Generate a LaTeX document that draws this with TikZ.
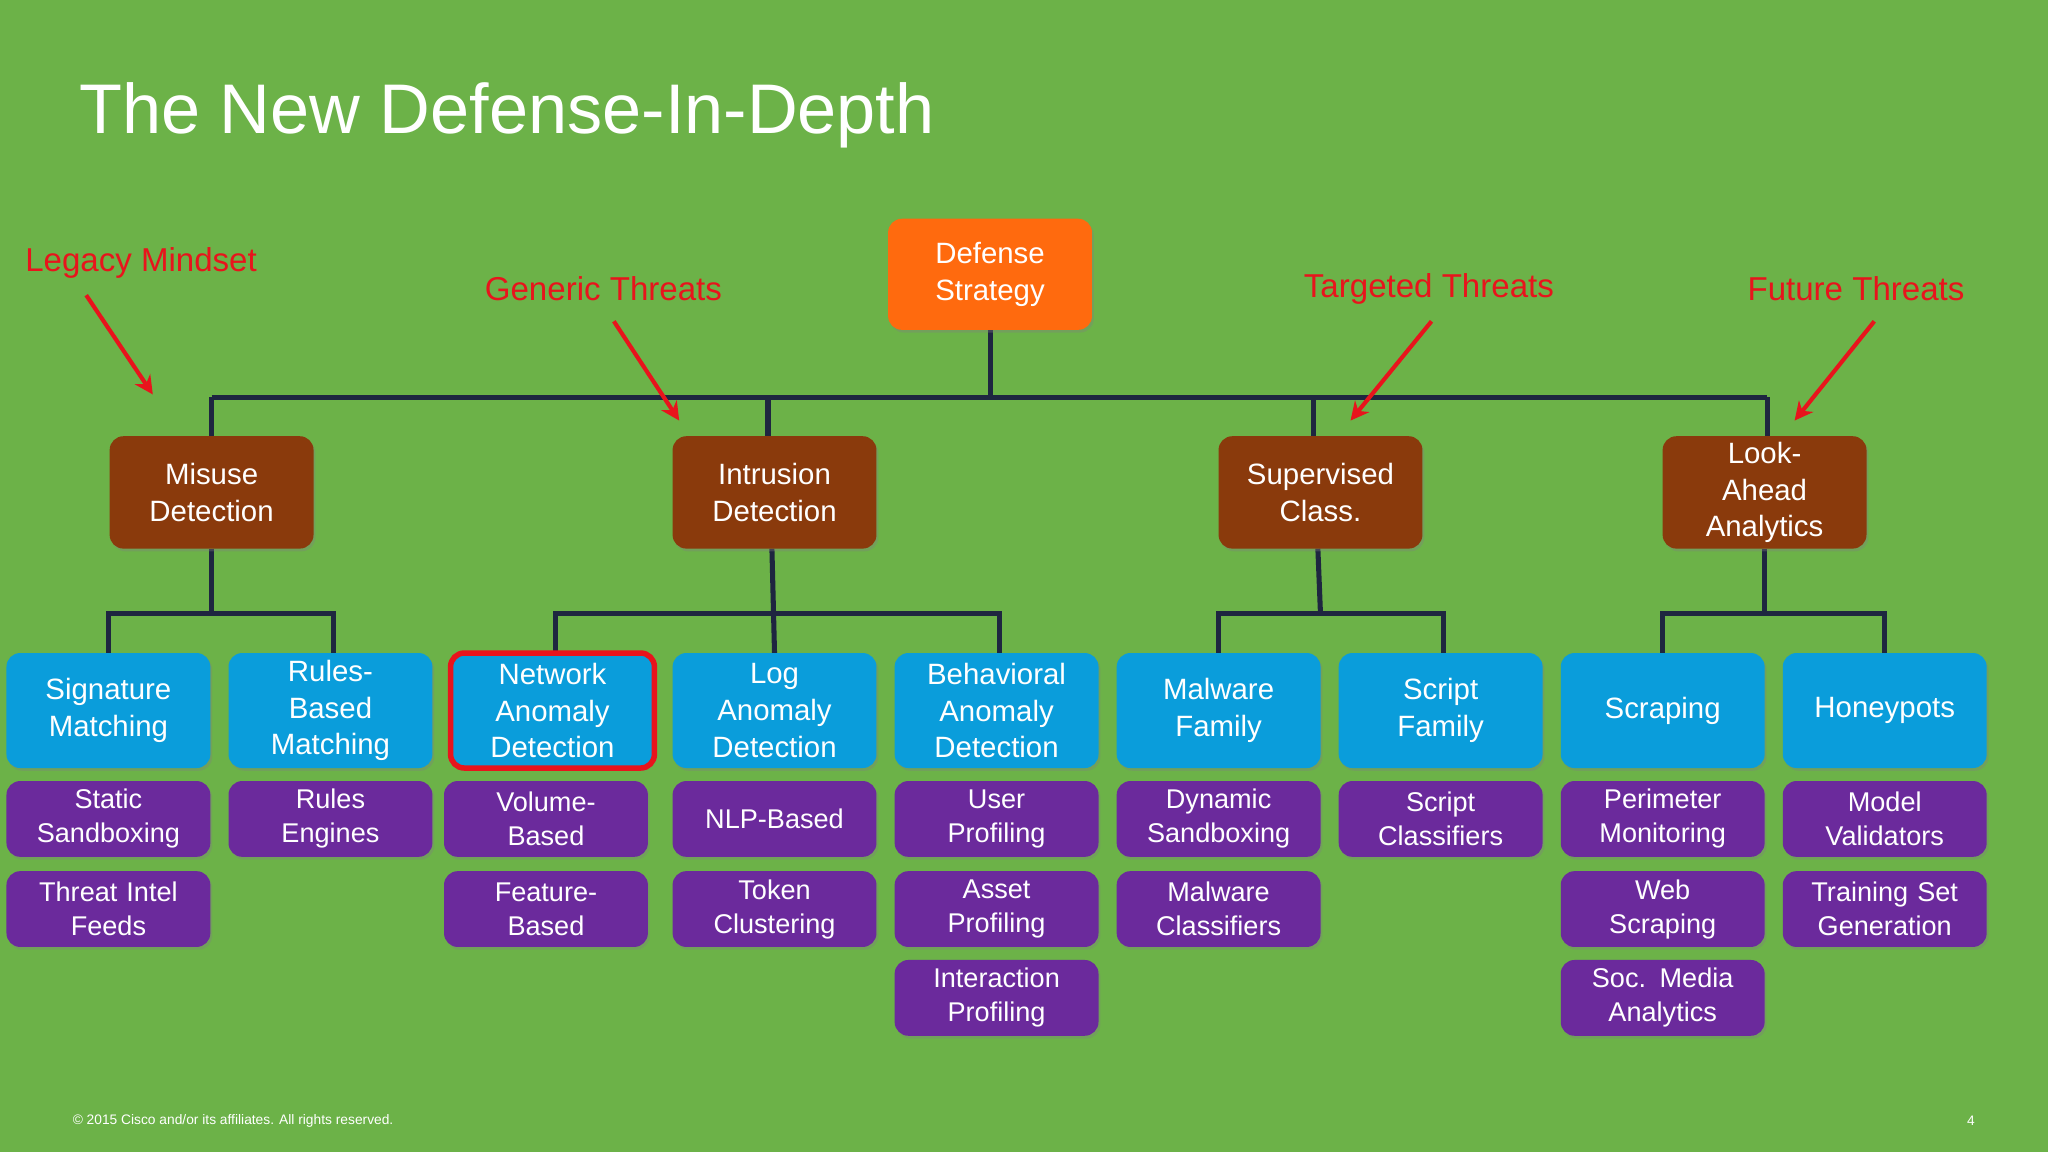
\documentclass[tikz,border=0pt]{standalone}
\usepackage{fontspec}
\setmainfont{Liberation Sans}
\usetikzlibrary{shadows,arrows.meta}
\definecolor{bg}{HTML}{6CB248}
\definecolor{org}{HTML}{FF6A0E}
\definecolor{brn}{HTML}{8A3A0C}
\definecolor{blu}{HTML}{0A9DDB}
\definecolor{pur}{HTML}{6B2A9C}
\definecolor{ln}{HTML}{1E2640}
\definecolor{rd}{HTML}{E8141C}
\begin{document}
\begin{tikzpicture}[x=0.01cm,y=-0.01cm,
 box/.style={rounded corners=3pt,text=white,align=center,font=\fontsize{6.4}{8}\selectfont,minimum width=1.56cm,text width=1.5cm,inner sep=0pt,drop shadow={opacity=0.35,shadow xshift=0.4pt,shadow yshift=-0.6pt}},
 top/.style={box,fill=org,minimum height=0.85cm},
 mid/.style={box,fill=brn,minimum height=0.86cm},
 leaf/.style={box,fill=blu,minimum height=0.88cm},
 sub/.style={box,fill=pur,minimum height=0.58cm,font=\fontsize{5.9}{7.4}\selectfont},
 bus/.style={draw=ln,line width=1.1pt},
 lab/.style={text=rd,font=\fontsize{7.2}{8}\selectfont},
 rar/.style={draw=rd,line width=0.9pt,-{Stealth[length=4pt,width=4pt]}}]
\fill[bg] (0,0) rectangle (1568,882);
\useasboundingbox (0,0) rectangle (1568,882);
\node[anchor=west,inner sep=0pt,text=white,font=\fontsize{15.3}{18}\selectfont] (title) at (60,88) {The New Defense-In-Depth};
% buses
\coordinate (b0) at (758,304); \coordinate (bl) at (162,304); \coordinate (br) at (1353,304);
\draw[bus] (758,253) -- (b0); \draw[bus] (bl) -- (br);
\foreach \x in {162,588,1006,1353} \draw[bus] (\x,304) -- (\x,334);
\draw[bus] (162,420) -- (162,470); \draw[bus] (83,500) -- (83,470) -- (255,470) -- (255,500);
\draw[bus] (591,420) -- (593,500); \draw[bus] (425,500) -- (425,470) -- (765,470) -- (765,500);
\draw[bus] (1009,420) -- (1011,470); \draw[bus] (933,500) -- (933,470) -- (1105,470) -- (1105,500);
\draw[bus] (1351,420) -- (1351,470); \draw[bus] (1273,500) -- (1273,470) -- (1443,470) -- (1443,500);
\node[top] (ds) at (758,210) {Defense\\Strategy};
\node[mid] (m1) at (162,377) {Misuse\\Detection};
\node[mid] (m2) at (593,377) {Intrusion\\Detection};
\node[mid] (m3) at (1011,377) {Supervised\\Class.};
\node[mid] (m4) at (1351,377) {Look-\\Ahead\\Analytics};
\node[leaf] (l1) at (83,544) {Signature\\Matching};
\node[leaf] (l2) at (253,544) {Rules-\\Based\\Matching};
\node[leaf,draw=rd,line width=1.2pt] (l3) at (423,544) {Network\\Anomaly\\Detection};
\node[leaf] (l4) at (593,544) {Log\\Anomaly\\Detection};
\node[leaf] (l5) at (763,544) {Behavioral\\Anomaly\\Detection};
\node[leaf] (l6) at (933,544) {Malware\\Family};
\node[leaf] (l7) at (1103,544) {Script\\Family};
\node[leaf] (l8) at (1273,544) {Scraping};
\node[leaf] (l9) at (1443,544) {Honeypots};
\node[sub] (s11) at (83,627) {Static\\Sandboxing};
\node[sub] (s12) at (83,696) {Threat Intel\\Feeds};
\node[sub] (s21) at (253,627) {Rules\\Engines};
\node[sub] (s31) at (418,627) {Volume-\\Based};
\node[sub] (s32) at (418,696) {Feature-\\Based};
\node[sub] (s41) at (593,627) {NLP-Based};
\node[sub] (s42) at (593,696) {Token\\Clustering};
\node[sub] (s51) at (763,627) {User\\Profiling};
\node[sub] (s52) at (763,696) {Asset\\Profiling};
\node[sub] (s53) at (763,764) {Interaction\\Profiling};
\node[sub] (s61) at (933,627) {Dynamic\\Sandboxing};
\node[sub] (s62) at (933,696) {Malware\\Classifiers};
\node[sub] (s71) at (1103,627) {Script\\Classifiers};
\node[sub] (s81) at (1273,627) {Perimeter\\Monitoring};
\node[sub] (s82) at (1273,696) {Web\\Scraping};
\node[sub] (s83) at (1273,764) {Soc. Media\\Analytics};
\node[sub] (s91) at (1443,627) {Model\\Validators};
\node[sub] (s92) at (1443,696) {Training Set\\Generation};
% labels
\node[lab] (t1) at (108,201) {Legacy Mindset};
\node[lab] (t2) at (462,221) {Generic Threats};
\node[lab] (t3) at (1094,221) {Targeted Threats};
\node[lab] (t4) at (1421,221) {Future Threats};
\coordinate (a1s) at (66,226); \coordinate (a1e) at (117,302);
\coordinate (a2s) at (470,246); \coordinate (a2e) at (520,322);
\coordinate (a3s) at (1096,246); \coordinate (a3e) at (1034,322);
\coordinate (a4s) at (1435,246); \coordinate (a4e) at (1374,322);
\draw[rar] (a1s) -- (a1e); \draw[rar] (a2s) -- (a2e);
\draw[rar] (a3s) -- (a3e); \draw[rar] (a4s) -- (a4e);
\node[anchor=west,inner sep=0pt,text=white,font=\fontsize{3}{4}\selectfont] (ft) at (55,858) {© 2015 Cisco and/or its affiliates. All rights reserved.};
\node[text=white,font=\fontsize{3}{4}\selectfont] (pg) at (1509,858) {4};
\end{tikzpicture}
\end{document}
